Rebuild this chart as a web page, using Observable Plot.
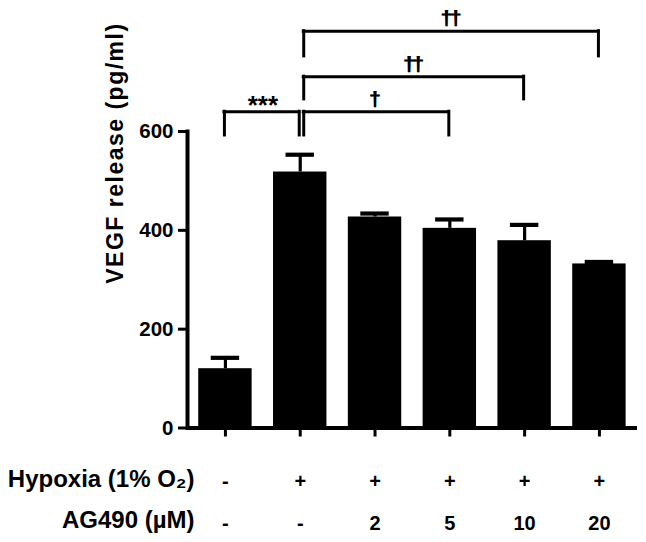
<!DOCTYPE html>
<html>
<head>
<meta charset="utf-8">
<script src="https://cdn.jsdelivr.net/npm/d3@7"></script>
<script src="https://cdn.jsdelivr.net/npm/@observablehq/plot@0.6"></script>
<style>
  html, body { margin: 0; padding: 0; background: #fff; }
  #chart { width: 646px; height: 542px; }
</style>
</head>
<body>
<div id="chart"></div>
<script>
// ---- data ----
const categories = ["Normoxia", "Hypoxia", "Hypoxia + AG490 2", "Hypoxia + AG490 5", "Hypoxia + AG490 10", "Hypoxia + AG490 20"];
const vegfMean  = [120, 518, 427, 404, 379, 332];
const vegfError = [22, 35, 7, 18, 32, 4];
const hypoxiaRow = ["-", "+", "+", "+", "+", "+"];
const ag490Row   = ["-", "-", "2", "5", "10", "20"];
const rowLabels  = ["Hypoxia (1% O₂)", "AG490 (µM)"];
const yTicks = [0, 200, 400, 600];
const yLabel = "VEGF release (pg/ml)";
const comparisons = [
  {from: "Normoxia", to: "Hypoxia",            level: 640, leg: 592, mark: "***"},
  {from: "Hypoxia",  to: "Hypoxia + AG490 5",  level: 640, leg: 592, mark: "†"},
  {from: "Hypoxia",  to: "Hypoxia + AG490 10", level: 711, leg: 665, mark: "††"},
  {from: "Hypoxia",  to: "Hypoxia + AG490 20", level: 803, leg: 752, mark: "††"}
];

// ---- derived tables ----
const idx = (c) => categories.indexOf(c);
const bars = categories.map((c, i) => ({c, i, value: vegfMean[i], upper: vegfMean[i] + vegfError[i]}));
const comps = comparisons.map(d => ({...d, a: idx(d.from), b: idx(d.to), star: d.mark === "***"}));
const legs = comps.flatMap(d => [
  {x: d.a, y1: d.leg, y2: d.level, star: d.star, side: "L"},
  {x: d.b, y1: d.leg, y2: d.level, star: d.star, side: "R"}
]);

const halfBar = 0.357;
const halfCap = 0.19;
const font = "'Liberation Sans', Arial, Helvetica, sans-serif";
const daggerText = (dx) => Plot.text(comps.filter(d => !d.star), {
  x: d => (d.a + d.b) / 2, y: "level", text: "mark", lineAnchor: "bottom",
  dx, dy: -6, fontSize: 21, fill: "#000"
});

const svg = Plot.plot({
  width: 646,
  height: 542,
  marginLeft: 187,
  marginRight: 9,
  marginTop: 131,
  marginBottom: 114.5,
  x: {type: "linear", domain: [-0.507, 5.509]},
  y: {type: "linear", domain: [0, 600]},
  style: {fontFamily: font, fontWeight: "bold", fontSize: "20px", color: "#000", background: "#fff"},
  marks: [
    // bars
    Plot.rect(bars, {x1: d => d.i - halfBar, x2: d => d.i + halfBar, y1: 0, y2: "value", fill: "#000"}),
    // error bars (upper only)
    Plot.ruleX(bars, {x: "i", y1: "value", y2: "upper", stroke: "#000", strokeWidth: 3.2}),
    Plot.ruleY(bars, {y: "upper", x1: d => d.i - halfCap, x2: d => d.i + halfCap, stroke: "#000", strokeWidth: 4.2}),
    // axes
    Plot.frame({anchor: "left", stroke: "#000", strokeWidth: 4}),
    Plot.ruleY([0], {stroke: "#000", strokeWidth: 4}),
    Plot.axisY({ticks: yTicks, tickSize: 9, tickPadding: 5, strokeWidth: 3, fontSize: 20.5, label: null}),
    Plot.axisX({ticks: bars.map(d => d.i), tickSize: 9, strokeWidth: 3, tickFormat: () => "", label: null}),
    // y label
    Plot.text([yLabel], {frameAnchor: "left", rotate: -90, dx: -72, dy: 4, fontSize: 23}),
    // condition table below the axis
    Plot.text(bars, {x: "i", text: d => hypoxiaRow[d.i], frameAnchor: "bottom", lineAnchor: "bottom", dy: 60, fontSize: 20}),
    Plot.text(bars, {x: "i", text: d => ag490Row[d.i], frameAnchor: "bottom", lineAnchor: "bottom", dy: 101.5, fontSize: 20}),
    Plot.text([rowLabels[0]], {frameAnchor: "bottom-left", textAnchor: "end", lineAnchor: "bottom", dx: 7, dy: 59, fontSize: 24}),
    Plot.text([rowLabels[1]], {frameAnchor: "bottom-left", textAnchor: "end", lineAnchor: "bottom", dx: 7, dy: 99.5, fontSize: 24}),
    // significance brackets
    Plot.ruleX(legs.filter(d => !d.star && d.side === "L"), {x: "x", y1: "y1", y2: "y2", dx: 3.5, strokeWidth: 3, strokeLinecap: "square"}),
    Plot.ruleX(legs.filter(d => d.star || d.side === "R"), {x: "x", y1: "y1", y2: "y2", dx: -1, strokeWidth: 3, strokeLinecap: "square"}),
    Plot.ruleY(comps.filter(d => d.star), {y: "level", x1: "a", x2: "b", insetLeft: -1, insetRight: 1, strokeWidth: 3, strokeLinecap: "square"}),
    Plot.ruleY(comps.filter(d => !d.star), {y: "level", x1: "a", x2: "b", insetLeft: 3.5, insetRight: 1, strokeWidth: 3, strokeLinecap: "square"}),
    Plot.text(comps.filter(d => d.star), {x: d => (d.a + d.b) / 2, y: "level", text: "mark", lineAnchor: "bottom", dy: 2, fontSize: 26}),
    daggerText(-0.4),
    daggerText(0.4)
  ]
});

svg.querySelectorAll("text").forEach(t => {
  if (t.textContent === yLabel) t.setAttribute("letter-spacing", "1.5");
  if (t.textContent === "††") t.setAttribute("letter-spacing", "-2.5");
});

document.getElementById("chart").appendChild(svg);
</script>
</body>
</html>
